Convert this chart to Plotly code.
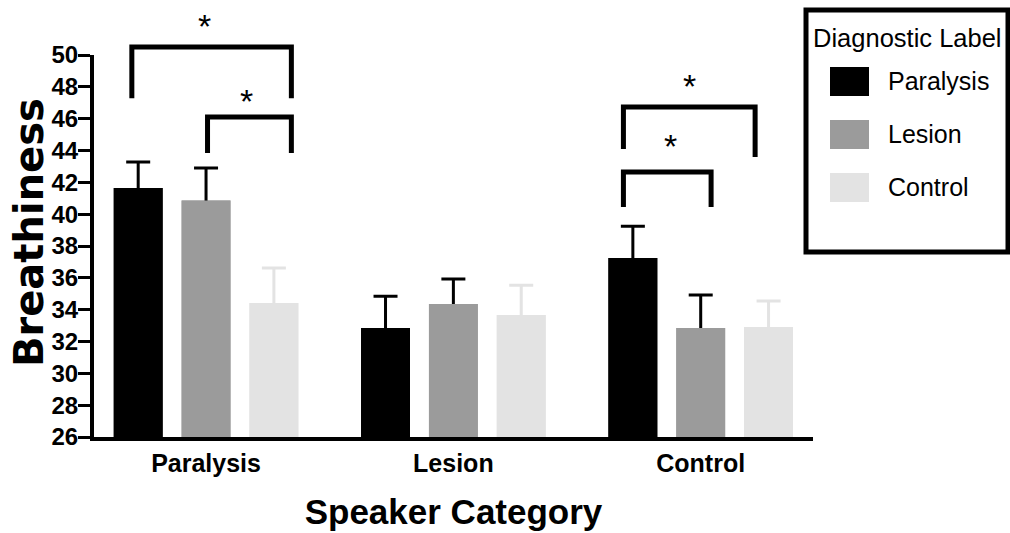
import plotly.graph_objects as go

# ---------------- data ----------------
categories = ["Paralysis", "Lesion", "Control"]
series_names = ["Paralysis", "Lesion", "Control"]
series_colors = ["#000000", "#9b9b9b", "#e3e3e3"]
error_colors = ["#000000", "#000000", "#e3e3e3"]

paralysis_vals = [41.64, 32.85, 37.24]
lesion_vals = [40.86, 34.35, 32.85]
control_vals = [34.42, 33.66, 32.91]

paralysis_err = [1.63, 2.0, 2.0]
lesion_err = [2.04, 1.57, 2.07]
control_err = [2.2, 1.88, 1.63]

y_ticks = list(range(26, 51, 2))
y_min, y_max = 26, 50

# significance brackets: x_left, x_right, y_top, y_left_end, y_right_end
brackets = [
    (-0.30, 0.345, 50.50, 47.29, 47.29),
    (0.006, 0.345, 46.10, 43.84, 43.84),
    (1.6875, 2.22, 46.73, 44.09, 43.59),
    (1.6875, 2.042, 42.65, 40.45, 40.45),
]
# stars: x, y
stars = [(-0.006, 52.07), (0.165, 47.36), (1.954, 48.30), (1.877, 44.53)]

# ---------------- layout constants ----------------
W, H = 1010, 533
ML, MR, MT, MB = 94, 197, 55, 96
PW, PH = W - ML - MR, H - MT - MB


def px_x(p):
    return (p - ML) / PW


def px_y(p):
    return (H - MB - p) / PH


def val_to_paper(v):
    return (v - y_min) / (y_max - y_min)


fig = go.Figure()
vals = [paralysis_vals, lesion_vals, control_vals]
errs = [paralysis_err, lesion_err, control_err]
xs = list(range(len(categories)))
# bars with upward error bars
for i, (name, v, e, c, ec) in enumerate(zip(series_names, vals, errs, series_colors, error_colors)):
    fig.add_trace(go.Bar(
        x=xs, y=v, name=name, offsetgroup=str(i),
        marker=dict(color=c, line=dict(width=0)),
        error_y=dict(type="data", symmetric=False, array=e,
                     arrayminus=[0.2] * len(e), color=ec, thickness=3, width=12),
        showlegend=False,
    ))
# same bars again on top, hiding the lower caps of the error bars
for i, (name, v, c) in enumerate(zip(series_names, vals, series_colors)):
    fig.add_trace(go.Bar(
        x=xs, y=v, name=name, offsetgroup=str(i),
        marker=dict(color=c, line=dict(width=0)),
        showlegend=False, hoverinfo="skip",
    ))

shapes = []
for xl, xr, yt, yl, yr in brackets:
    shapes.append(dict(
        type="path", xref="x", yref="paper",
        path=f"M {xl},{val_to_paper(yl)} L {xl},{val_to_paper(yt)} "
             f"L {xr},{val_to_paper(yt)} L {xr},{val_to_paper(yr)}",
        line=dict(color="black", width=5),
    ))

annotations = []
for sx, sy in stars:
    annotations.append(dict(
        x=sx, y=val_to_paper(sy), xref="x", yref="paper", text="*", showarrow=False,
        xanchor="center", yanchor="middle",
        font=dict(family="Liberation Sans, Arial", size=34, color="black"),
        yshift=-4,
    ))

# y-axis title
annotations.append(dict(
    x=px_x(29), y=px_y(233), xref="paper", yref="paper", text="Breathiness",
    textangle=-90, showarrow=False, xanchor="center", yanchor="middle",
    font=dict(family="DejaVu Sans", size=40, weight="bold", color="black"),
))

# custom legend
shapes.append(dict(type="rect", xref="paper", yref="paper",
                   x0=px_x(806), x1=px_x(1008), y0=px_y(252), y1=px_y(10),
                   line=dict(color="black", width=5), fillcolor="white"))
annotations.append(dict(x=px_x(907), y=px_y(38), xref="paper", yref="paper",
                        xanchor="center", yanchor="middle",
                        text="Diagnostic Label", showarrow=False,
                        font=dict(family="Liberation Sans, Arial", size=25.5, color="black")))
sw_tops = [67, 120, 173]
for name, c, top in zip(series_names, series_colors, sw_tops):
    shapes.append(dict(type="rect", xref="paper", yref="paper",
                       x0=px_x(830), x1=px_x(869), y0=px_y(top + 29), y1=px_y(top),
                       line=dict(width=0), fillcolor=c))
    annotations.append(dict(x=px_x(886), y=px_y(top + 14), xref="paper", yref="paper",
                            text=name, showarrow=False, xanchor="left", yanchor="middle",
                            font=dict(family="Liberation Sans, Arial", size=25, color="black")))

fig.update_layout(
    width=W, height=H, autosize=False,
    margin=dict(l=ML, r=MR, t=MT, b=MB, pad=0, autoexpand=False),
    paper_bgcolor="white", plot_bgcolor="white",
    barmode="group", bargap=0.177, bargroupgap=0.28,
    shapes=shapes, annotations=annotations,
    font=dict(family="Liberation Sans, Arial", color="black"),
)
fig.update_xaxes(
    range=[-0.453, 2.454], tickvals=xs, ticktext=categories, automargin=False,
    showline=True, linecolor="black", linewidth=4, ticks="", showgrid=False,
    zeroline=False, ticklabelstandoff=1,
    tickfont=dict(family="Liberation Sans, Arial", size=25, weight="bold", color="black"),
    title=dict(text="Speaker Category", standoff=24,
               font=dict(family="Liberation Sans, Arial", size=35, weight="bold", color="black")),
)
fig.update_yaxes(
    range=[y_min, y_max], tickvals=y_ticks, showline=True, linecolor="black", linewidth=4,
    ticks="outside", ticklen=12, tickwidth=3, tickcolor="black", showgrid=False,
    zeroline=False, automargin=False,
    tickfont=dict(family="Liberation Sans, Arial", size=24, weight="bold", color="black"),
)
try:
    fig.update_yaxes(ticklabelstandoff=-5)
except Exception:
    pass

fig.write_html("out.html")
